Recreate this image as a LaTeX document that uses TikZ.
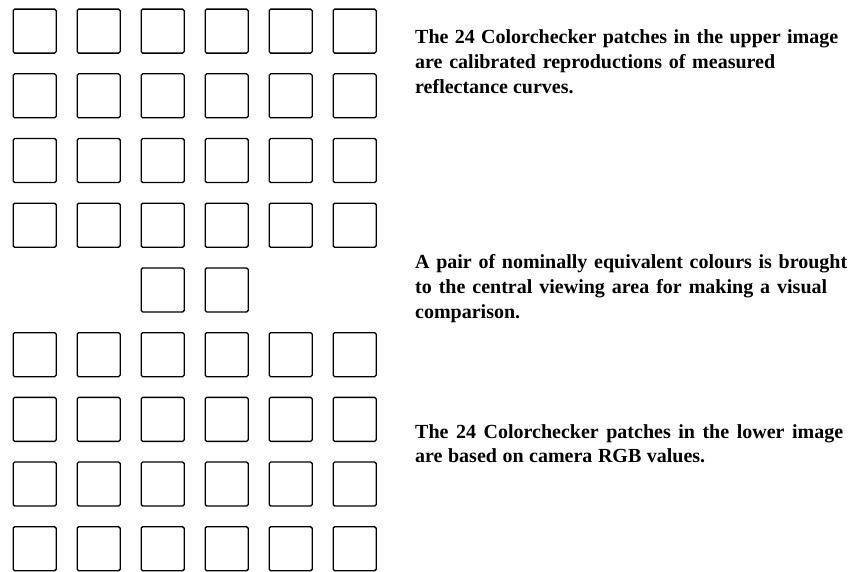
\documentclass[tikz,border=0pt]{standalone}
\usepackage{fontspec}
\setmainfont{Liberation Serif}
\begin{document}
\begin{tikzpicture}[x=1pt,y=-1pt,
  patch/.style={draw=black,line width=1.3pt,rounded corners=1.5pt,minimum width=43pt,minimum height=44pt,anchor=north west,inner sep=0pt},
  txt/.style={anchor=base west,inner sep=0pt,font=\fontsize{20}{24}\selectfont\bfseries}]
\useasboundingbox (0,0) rectangle (850,572);
\foreach \r in {0,1,2,3,5,6,7,8}{
  \foreach \c in {0,...,5}{
    \node[patch] (p\r\c) at ({12.5+64*\c},{8.5+64.7*\r}) {};
  }
}
\node[patch] (p42) at ({12.5+64*2},{8.5+64.7*4}) {};
\node[patch] (p43) at ({12.5+64*3},{8.5+64.7*4}) {};
% text block 1
\node[txt] (a1) at (415,44) {\makebox[423pt][s]{The 24 Colorchecker patches in the upper image}};
\node[txt] (a2) at (415,69) {\makebox[360pt][s]{are calibrated reproductions of measured}};
\node[txt] (a3) at (415,94) {reflectance curves.};
% text block 2
\node[txt] (b1) at (415,268) {\makebox[432pt][s]{A pair of nominally equivalent colours is brought}};
\node[txt] (b2) at (415,293) {\makebox[412pt][s]{to the central viewing area for making a visual}};
\node[txt] (b3) at (415,318) {comparison.};
% text block 3
\node[txt] (c1) at (415,438) {\makebox[428pt][s]{The 24 Colorchecker patches in the lower image}};
\node[txt] (c2) at (415,462) {\makebox[290pt][s]{are based on camera RGB values.}};
\end{tikzpicture}
\end{document}
